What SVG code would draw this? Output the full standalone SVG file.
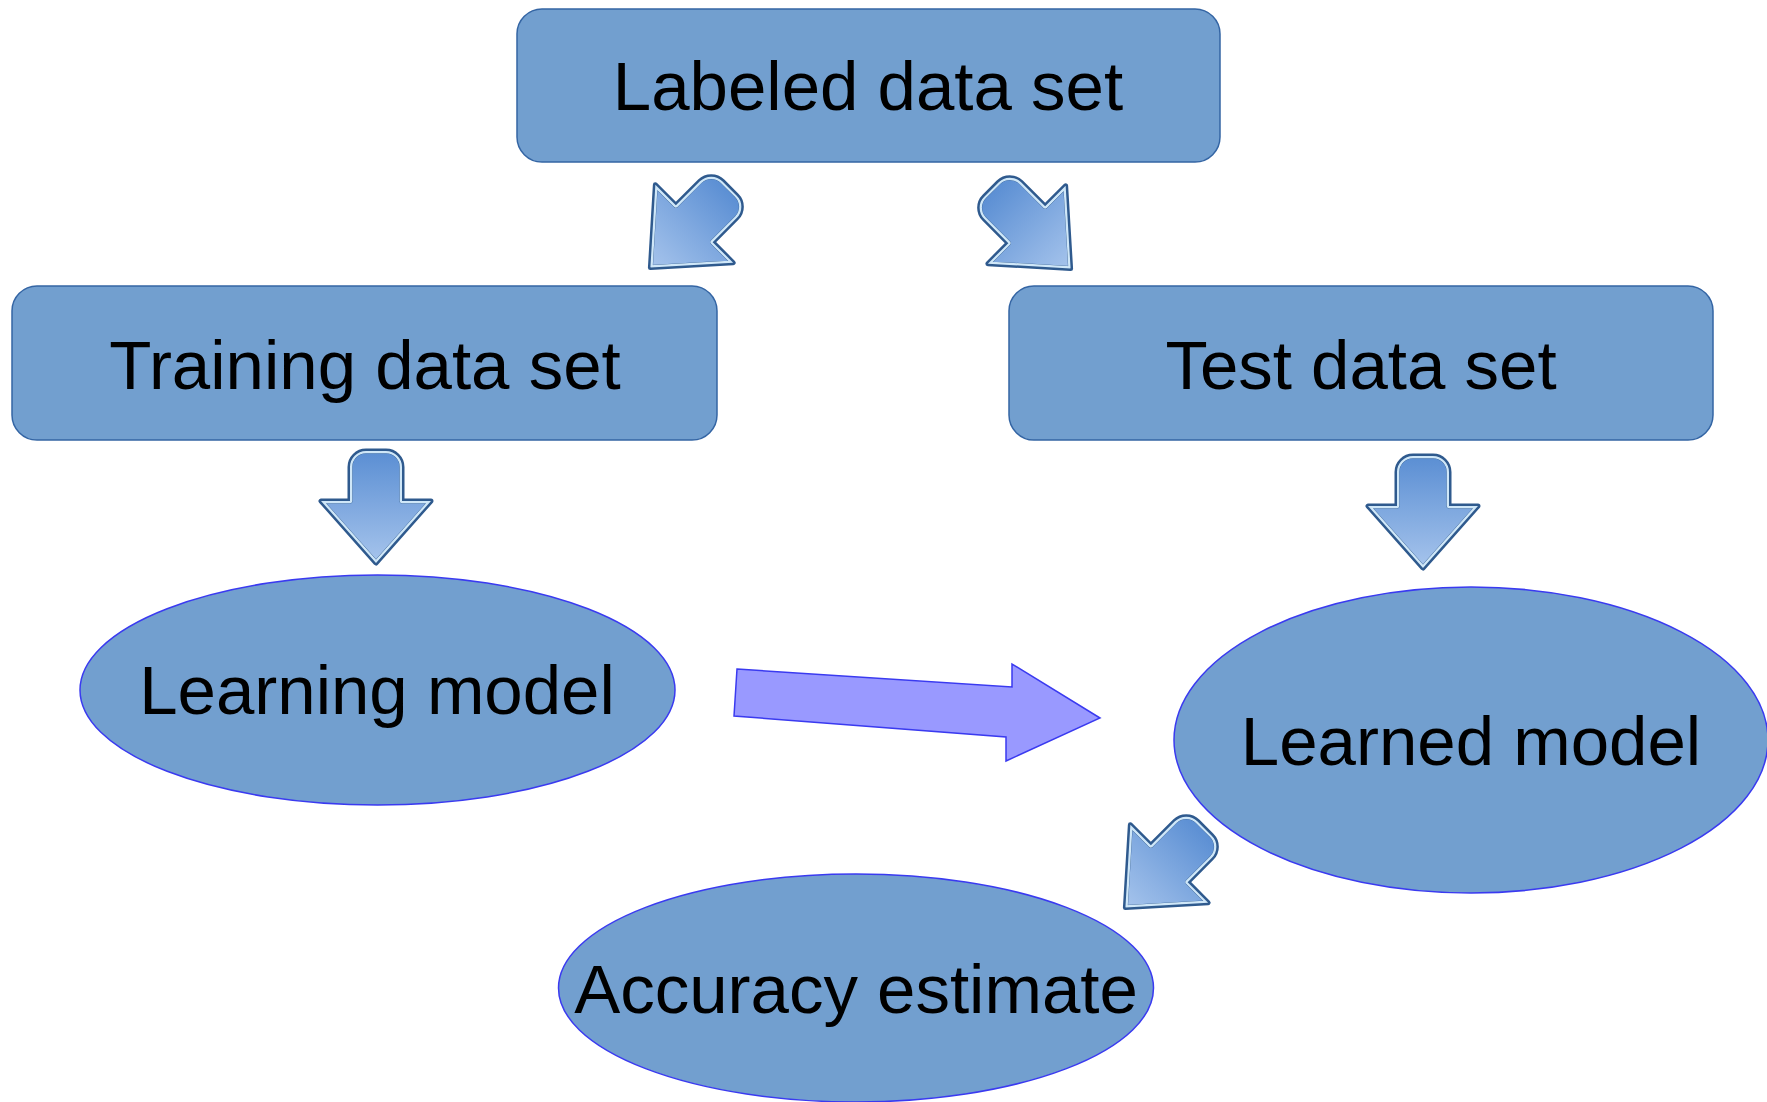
<svg xmlns="http://www.w3.org/2000/svg" xmlns:xlink="http://www.w3.org/1999/xlink" width="1767" height="1102" viewBox="0 0 1767 1102">
  <style>
    .box { fill: #729fcf; stroke: #3465a4; stroke-width: 1.5; }
    .oval { fill: #729fcf; stroke: #3a3af0; stroke-width: 1.5; }
    .label { font-family: "Liberation Sans", Arial, sans-serif; font-size: 69px; fill: #000; text-anchor: middle; }
    .blk-outer { fill: url(#blkFill); stroke: #2f5a8e; stroke-width: 5; stroke-linejoin: round; }
    .blk-inner { fill: none; stroke: #cfe7f8; stroke-width: 4.5; stroke-linejoin: round; }
    .flow { fill: #9999ff; stroke: #3a3af0; stroke-width: 1.5; }
  </style>
  <defs>
    <!-- block arrow outline, pointing down, centred on the origin -->
    <path id="blk" d="M -26,-40 A 16 16 0 0 1 -10,-56 L 10,-56 A 16 16 0 0 1 26,-40 L 26,-6 L 55,-6 L 0,56 L -55,-6 L -26,-6 Z"/>
    <clipPath id="blkClip">
      <use xlink:href="#blk"/>
    </clipPath>
    <linearGradient id="blkFill" x1="0" y1="0" x2="0" y2="1">
      <stop offset="0" stop-color="#5a8ed3"/>
      <stop offset="1" stop-color="#a6c4ec"/>
    </linearGradient>
  </defs>

  <rect width="1767" height="1102" fill="#ffffff"/>

  <!-- nodes -->
  <g id="labeled-data-set">
    <rect class="box" x="517" y="9" width="703" height="153" rx="25" ry="25"/>
    <text class="label" x="868" y="110">Labeled data set</text>
  </g>
  <g id="training-data-set">
    <rect class="box" x="12" y="286" width="705" height="154" rx="25" ry="25"/>
    <text class="label" x="365" y="389">Training data set</text>
  </g>
  <g id="test-data-set">
    <rect class="box" x="1009" y="286" width="704" height="154" rx="25" ry="25"/>
    <text class="label" x="1361" y="389">Test data set</text>
  </g>
  <g id="learning-model">
    <ellipse class="oval" cx="377.5" cy="690" rx="297.5" ry="115"/>
    <text class="label" x="377" y="714">Learning model</text>
  </g>
  <g id="learned-model">
    <ellipse class="oval" cx="1471" cy="740" rx="297" ry="153"/>
    <text class="label" x="1471" y="765">Learned model</text>
  </g>
  <g id="accuracy-estimate">
    <ellipse class="oval" cx="856" cy="988" rx="297.5" ry="114"/>
    <text class="label" x="856" y="1013">Accuracy estimate</text>
  </g>

  <!-- connectors -->
  <g id="connectors">
    <g transform="translate(690,228) rotate(45)">
      <use xlink:href="#blk" class="blk-outer"/>
      <use xlink:href="#blk" class="blk-inner" clip-path="url(#blkClip)"/>
    </g>
    <g transform="translate(1031,229) rotate(-45)">
      <use xlink:href="#blk" class="blk-outer"/>
      <use xlink:href="#blk" class="blk-inner" clip-path="url(#blkClip)"/>
    </g>
    <g transform="translate(376,507)">
      <use xlink:href="#blk" class="blk-outer"/>
      <use xlink:href="#blk" class="blk-inner" clip-path="url(#blkClip)"/>
    </g>
    <g transform="translate(1423,512)">
      <use xlink:href="#blk" class="blk-outer"/>
      <use xlink:href="#blk" class="blk-inner" clip-path="url(#blkClip)"/>
    </g>
    <g transform="translate(1165,868) rotate(45)">
      <use xlink:href="#blk" class="blk-outer"/>
      <use xlink:href="#blk" class="blk-inner" clip-path="url(#blkClip)"/>
    </g>
    <polygon class="flow" points="737,669 1012,687 1012,664 1100,718 1006,761 1006,737 734,716"/>
  </g>
</svg>
